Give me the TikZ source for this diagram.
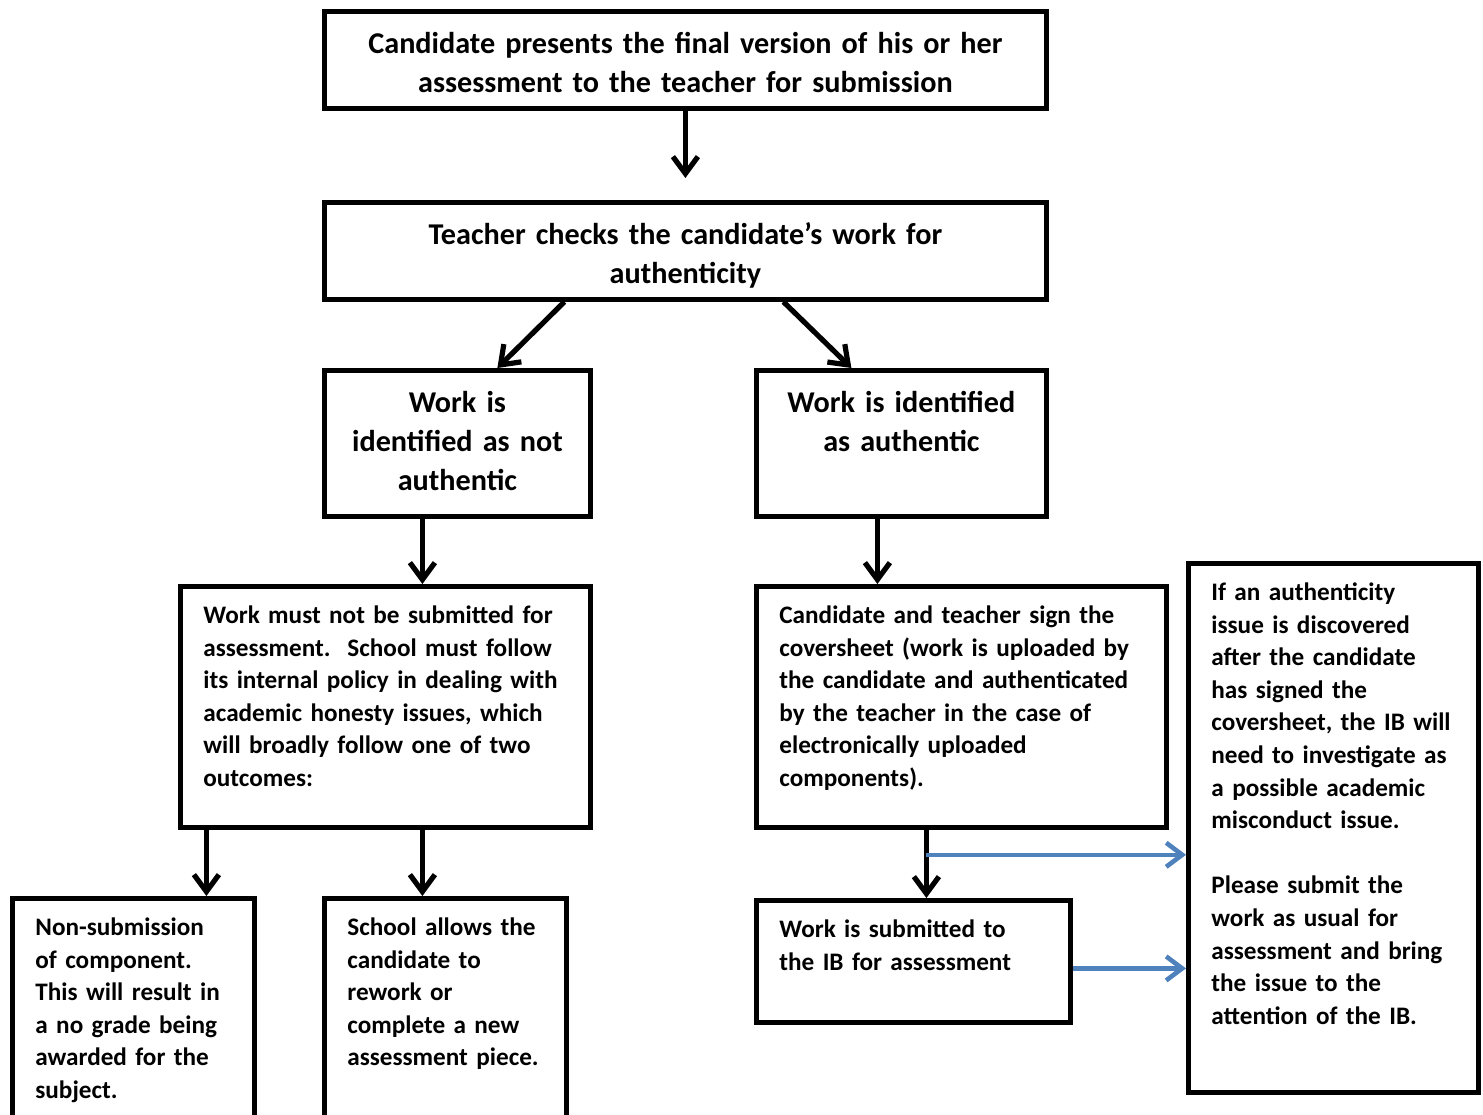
\documentclass[tikz,border=0pt]{standalone}
\usepackage{fontspec}
\setmainfont{Carlito}
\usetikzlibrary{arrows.meta}
\definecolor{link blue}{RGB}{79,129,189}
\newcommand{\bigtext}{\fontsize{15.1}{19.5}\selectfont\bfseries}
\newcommand{\smalltext}{\fontsize{12.6}{16.3}\selectfont\bfseries}
\tikzset{
  box/.style={draw, line width=2.4pt, anchor=north west, inner ysep=0pt},
  big/.style={box, font=\bigtext, align=center, inner xsep=0pt, text height=21pt},
  small/.style={box, font=\smalltext, align=left, inner xsep=11.5pt, text height=18.5pt}
  }
\tikzstyle{edge} = [draw, line width=2.6pt, -{Straight Barb[length=8.5pt,width=12.5pt]}]
\tikzstyle{side edge} = [draw, line width=2.3pt, link blue, -{Straight Barb[length=8pt,width=12pt]}]

\begin{document}
\begin{tikzpicture}[x=0.5pt, y=-0.5pt]
       \useasboundingbox (0,0) rectangle (1483,1114);

       % top of the chart
       \node[big, text width=361pt, text depth=27.5pt] (final) at (322,9)
           {Candidate presents the final version of his or her\\ assessment to the teacher for submission};
       \node[big, text width=361pt, text depth=27.5pt] (check) at (322,200)
           {Teacher checks the candidate’s work for\\ authenticity};
       \node[big, text width=133pt, text depth=52pt] (notauth) at (322,368)
           {Work is\\ identified as not\\ authentic};
       \node[big, text width=145pt, text depth=52pt] (auth) at (754,368)
           {Work is identified\\ as authentic};

       % outcomes
       \node[small, text width=182pt, text depth=102pt] (mustnot) at (178,584)
           {Work must not be submitted for\\ assessment.\ \ School must follow\\ its internal policy in dealing with\\ academic honesty issues, which\\ will broadly follow one of two\\ outcomes:};
       \node[small, text width=182pt, text depth=102pt] (sign) at (754,584)
           {Candidate and teacher sign the\\ coversheet (work is uploaded by\\ the candidate and authenticated\\ by the teacher in the case of\\ electronically uploaded\\ components).};
       \node[small, text width=98pt, text depth=101.5pt] (nonsub) at (10,896)
           {Non-submission\\ of component.\\ This will result in\\ a no grade being\\ awarded for the\\ subject.};
       \node[small, text width=98pt, text depth=101.5pt] (rework) at (322,896)
           {School allows the\\ candidate to\\ rework or\\ complete a new\\ assessment piece.};
       \node[small, text width=134pt, text depth=42.5pt] (submit) at (754,898)
           {Work is submitted to\\ the IB for assessment};
       \node[small, text width=122pt, text depth=246pt] (later) at (1186,561)
           {If an authenticity\\ issue is discovered\\ after the candidate\\ has signed the\\ coversheet, the IB will\\ need to investigate as\\ a possible academic\\ misconduct issue.\\[16.3pt] Please submit the\\ work as usual for\\ assessment and bring\\ the issue to the\\ attention of the IB.};

       \path[edge, shorten >=11pt] (final) -- (check);
       \foreach \source/\sx/\sink/\dx in {check/-60.5/notauth/20, check/49/auth/-25,
                notauth/-17.5/mustnot/18.5, auth/-12/sign/-42,
                mustnot/-89.5/nonsub/36.5, mustnot/18.5/rework/-11.5, sign/-17.5/submit/6.5} {
           \path[edge] ([xshift=\sx pt]\source.south) -- ([xshift=\dx pt]\sink.north);
       }

       % blue pointers to the note
       \coordinate (split) at ([xshift=-17.5pt,yshift=-12.5pt]sign.south);
       \coordinate (subout) at ([yshift=-3.5pt]submit.east);
       \path[side edge] (split) -- (split -| later.west);
       \path[side edge] (subout) -- (subout -| later.west);
\end{tikzpicture}
\end{document}
